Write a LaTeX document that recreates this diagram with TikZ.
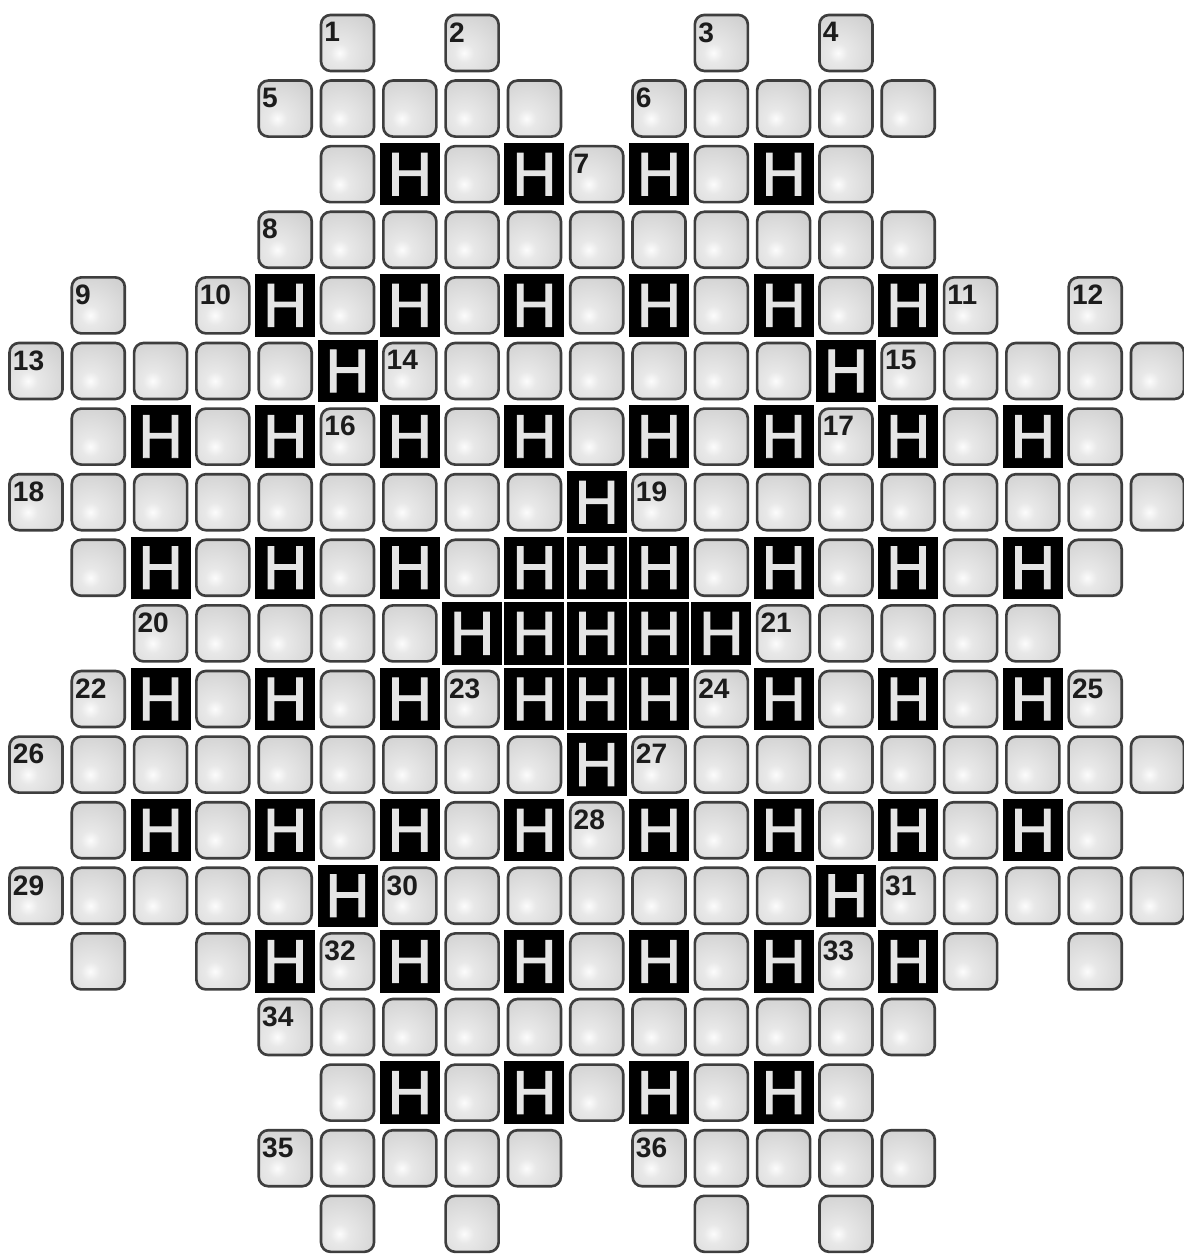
\documentclass[tikz,border=0pt]{standalone}
\usepackage{fontspec}
\setmainfont{Liberation Sans}
\newfontfamily\hkeyfont{Liberation Sans}[FakeBold=1.6]
\usetikzlibrary{positioning}

\definecolor{keyhi}{RGB}{252,252,252}
\definecolor{keymid}{RGB}{208,208,208}
\definecolor{keyrim}{RGB}{62,62,62}
\definecolor{numink}{RGB}{28,28,28}

\pgfdeclareradialshading{keyspot}{\pgfpoint{0bp}{0bp}}{%
  color(0bp)=(keyhi); color(3bp)=(keyhi!55!keymid);
  color(14bp)=(keymid); color(50bp)=(keymid)}

\begin{document}
\begin{tikzpicture}[
  x=1.246cm,y=-1.312cm,
  key/.style={draw=keyrim,line width=1.5pt,rounded corners=0.19cm,fill=keymid,
    minimum width=1.06cm,minimum height=1.12cm,inner sep=0pt,
    path picture={\shade[shading=keyspot]
      ([shift={(-0.16cm,-0.2cm)}]path picture bounding box.center) circle (1.6cm);}},
  hkey/.style={fill=black,minimum width=1.20cm,minimum height=1.25cm,inner sep=0pt,
    text=white!90!black,font=\hkeyfont\fontsize{35}{35}\selectfont},
  num/.style={anchor=north west,inner sep=0pt,text=numink,
    font=\bfseries\fontsize{16}{16}\selectfont}
]

\useasboundingbox (-0.578,-0.655) rectangle (18.411,18.521);

% plain keys, row by row
\foreach \r/\cols in {
    0/{5,7,11,13},
    1/{4,5,6,7,8,10,11,12,13,14},
    2/{5,7,9,11,13},
    3/{4,5,6,7,8,9,10,11,12,13,14},
    4/{1,3,5,7,9,11,13,15,17},
    5/{0,1,2,3,4,6,7,8,9,10,11,12,14,15,16,17,18},
    6/{1,3,5,7,9,11,13,15,17},
    7/{0,1,2,3,4,5,6,7,8,10,11,12,13,14,15,16,17,18},
    8/{1,3,5,7,11,13,15,17},
    9/{2,3,4,5,6,12,13,14,15,16},
    10/{1,3,5,7,11,13,15,17},
    11/{0,1,2,3,4,5,6,7,8,10,11,12,13,14,15,16,17,18},
    12/{1,3,5,7,9,11,13,15,17},
    13/{0,1,2,3,4,6,7,8,9,10,11,12,14,15,16,17,18},
    14/{1,3,5,7,9,11,13,15,17},
    15/{4,5,6,7,8,9,10,11,12,13,14},
    16/{5,7,9,11,13},
    17/{4,5,6,7,8,10,11,12,13,14},
    18/{5,7,11,13}}
  \foreach \c in \cols
    \node[key] (g-\r-\c) at (\c,\r) {};

% H keys
\foreach \r/\cols in {
    2/{6,8,10,12},
    4/{4,6,8,10,12,14},
    5/{5,13},
    6/{2,4,6,8,10,12,14,16},
    7/{9},
    8/{2,4,6,8,9,10,12,14,16},
    9/{7,8,9,10,11},
    10/{2,4,6,8,9,10,12,14,16},
    11/{9},
    12/{2,4,6,8,10,12,14,16},
    13/{5,13},
    14/{4,6,8,10,12,14},
    16/{6,8,10,12}}
  \foreach \c in \cols
    \node[hkey] (h-\r-\c) at (\c,\r) {H};

% numbers in the key corners
\foreach \n/\r/\c in {
    1/0/5, 2/0/7, 3/0/11, 4/0/13, 5/1/4, 6/1/10, 7/2/9, 8/3/4,
    9/4/1, 10/4/3, 11/4/15, 12/4/17, 13/5/0, 14/5/6, 15/5/14,
    16/6/5, 17/6/13, 18/7/0, 19/7/10, 20/9/2, 21/9/12,
    22/10/1, 23/10/7, 24/10/11, 25/10/17, 26/11/0, 27/11/10,
    28/12/9, 29/13/0, 30/13/6, 31/13/14, 32/14/5, 33/14/13,
    34/15/4, 35/17/4, 36/17/10}
  \node[num] (n\n) at ([shift={(0.07,0.13)}]g-\r-\c.north west) {\n};

\end{tikzpicture}
\end{document}
